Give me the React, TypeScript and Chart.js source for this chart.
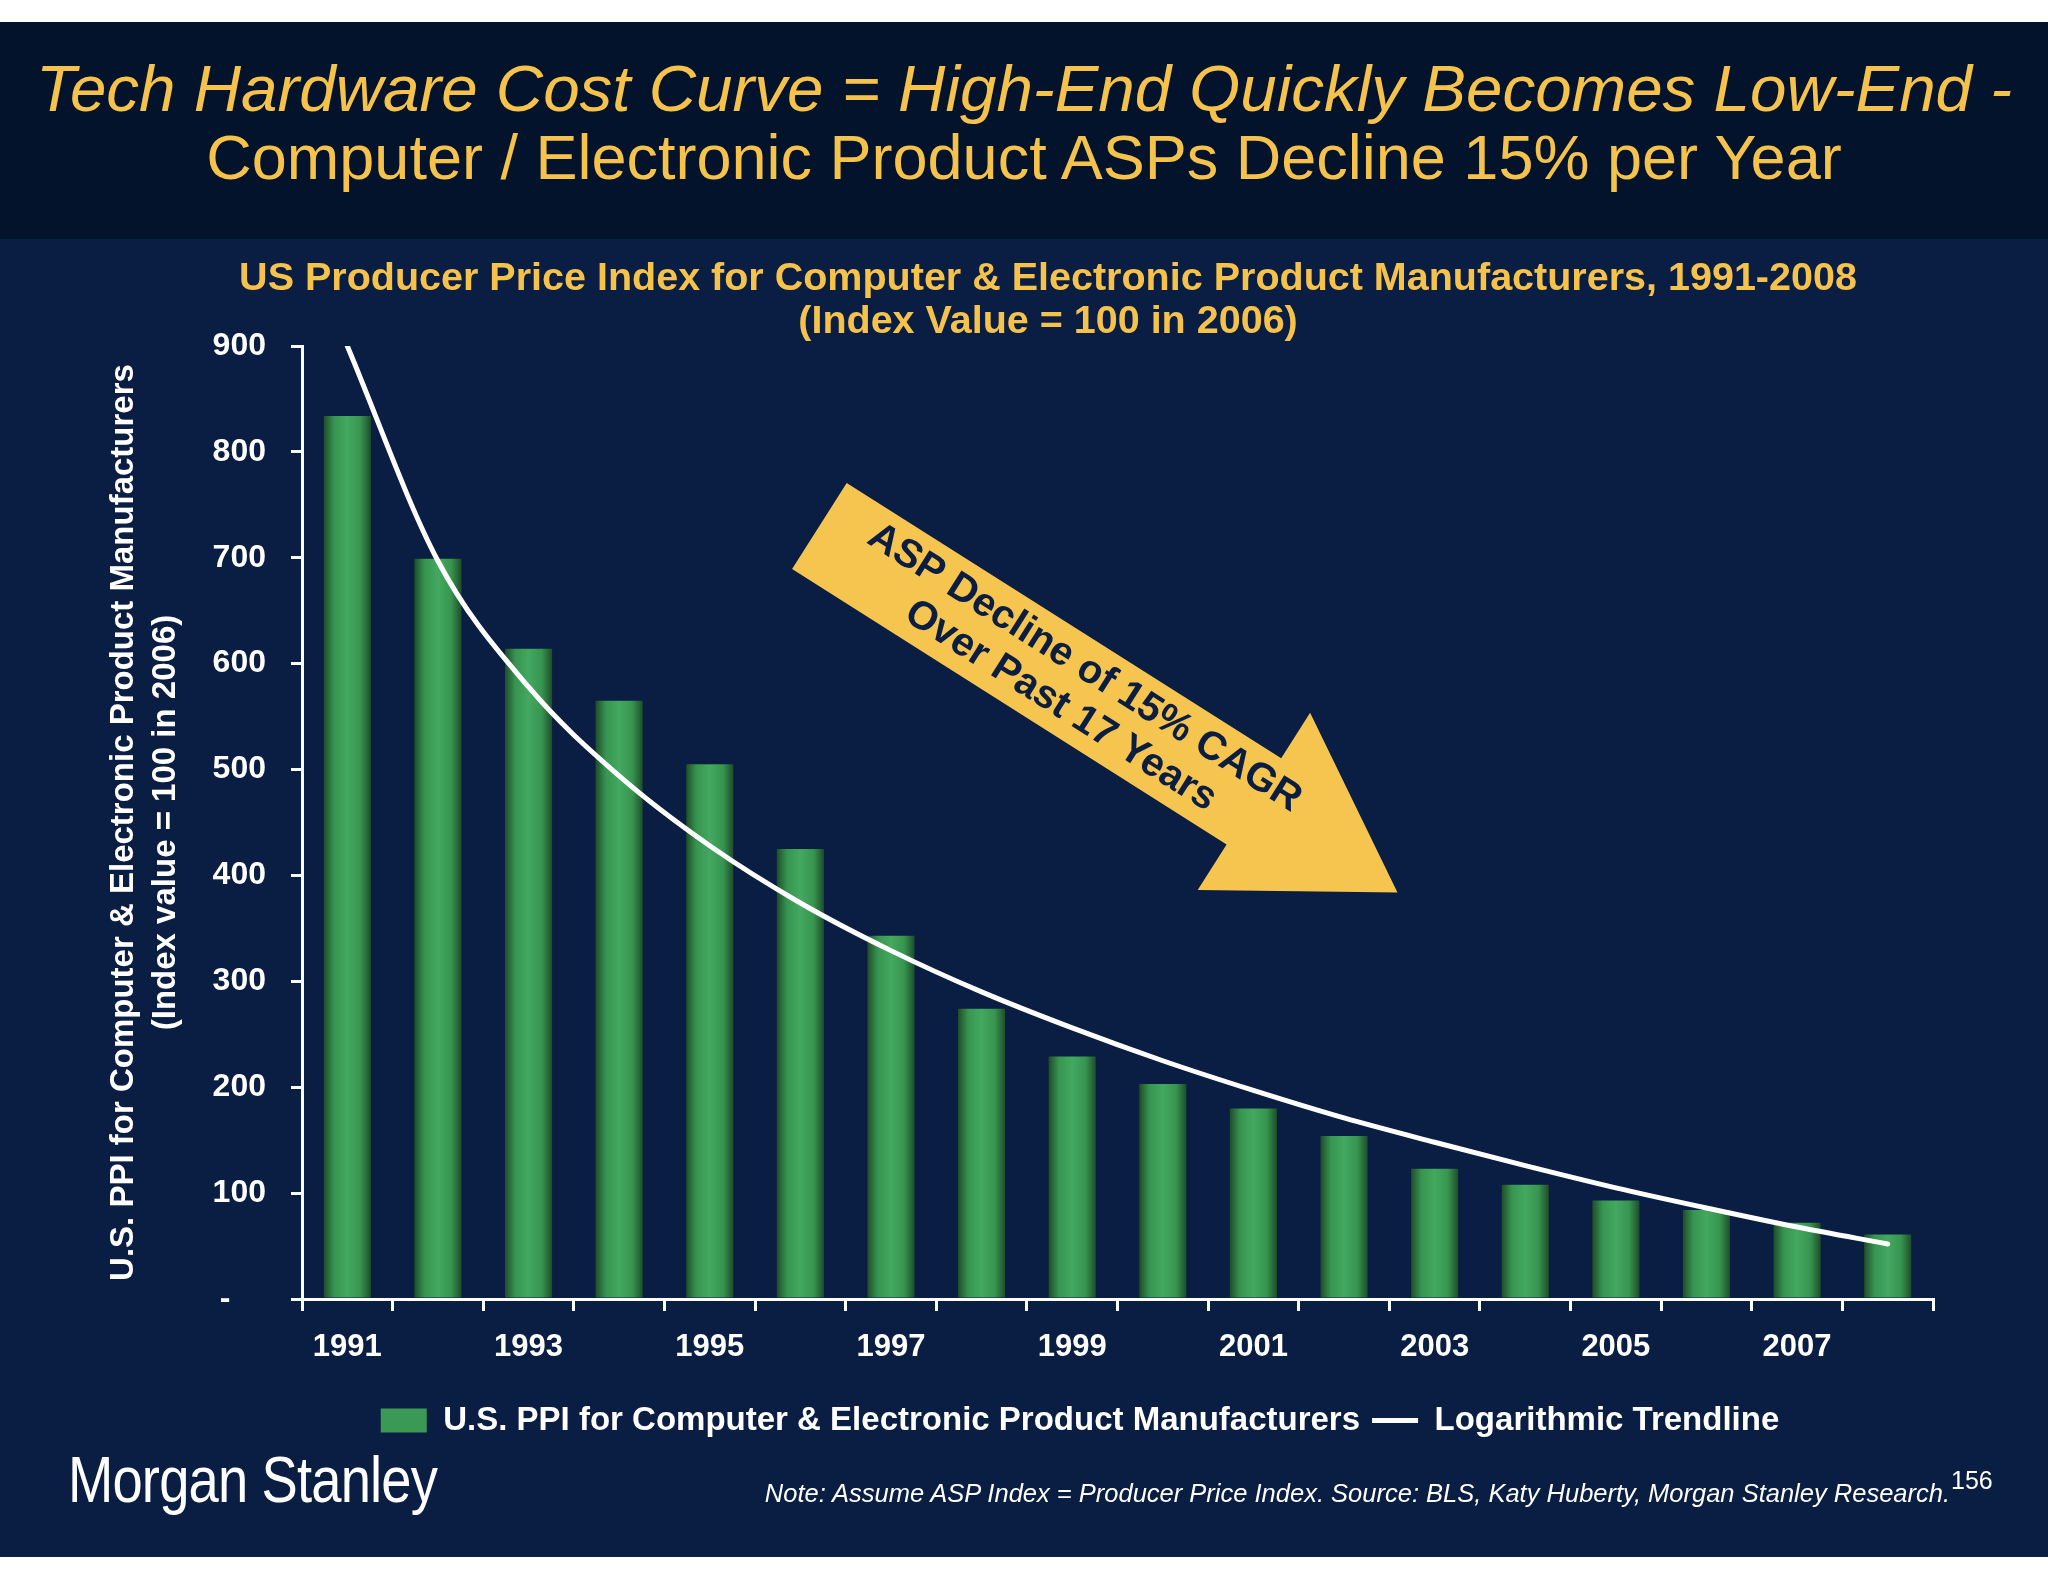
import React, { useEffect, useRef } from 'react';
import { Chart, registerables } from 'chart.js';

Chart.register(...registerables);

// ---------- data ----------
const years = ['1991', '1992', '1993', '1994', '1995', '1996', '1997', '1998', '1999', '2000', '2001', '2002', '2003', '2004', '2005', '2006', '2007', '2008'];
const yearTickLabels = ['1991', '', '1993', '', '1995', '', '1997', '', '1999', '', '2001', '', '2003', '', '2005', '', '2007', ''];
const ppiValues = [834, 699, 614, 565, 505, 425, 343, 274, 229, 203, 180, 154, 123, 108, 93, 84, 72, 61];
const trendValues = [900, 697, 578, 494, 428, 374, 329, 290, 256, 225, 197, 171, 148, 126, 105, 86, 68, 52];
const seriesLabels = ['U.S. PPI for Computer & Electronic Product Manufacturers', 'Logarithmic Trendline'];
const chartTitle = ['US Producer Price Index for Computer & Electronic Product Manufacturers, 1991-2008', '(Index Value = 100 in 2006)'];
const yAxisTitle = ['U.S. PPI for Computer & Electronic Product Manufacturers', '(Index value = 100 in 2006)'];
const arrowText = ['ASP Decline of 15% CAGR', 'Over Past 17 Years'];
// arrow annotation anchors in data space (category index, value)
const arrowTail = { x: 5.21, y: 730 };
const arrowTip = { x: 11.59, y: 384 };

// ---------- style ----------
const GOLD = '#f5c24c';
const PANEL = '#0a1d42';
const BAND = '#03132b';
const BAR_MID = '#3a9a55';
const FONT = '"Liberation Sans", Arial, Helvetica, sans-serif';

const barFill = (ctx: any) => {
  const chart = ctx.chart;
  const xs = chart.scales && chart.scales.x;
  if (ctx.type !== 'data' || !xs || !chart.chartArea) return BAR_MID;
  const cx = xs.getPixelForValue(ctx.dataIndex);
  const w = (xs.width / years.length) * 0.52;
  const g = chart.ctx.createLinearGradient(cx - w / 2, 0, cx + w / 2, 0);
  g.addColorStop(0, '#1f4d2a');
  g.addColorStop(0.22, '#379550');
  g.addColorStop(0.5, '#43a860');
  g.addColorStop(0.78, '#379550');
  g.addColorStop(1, '#1f4d2a');
  return g;
};

const arrowPlugin = {
  id: 'cagrArrow',
  afterDatasetsDraw(chart: any) {
    const { ctx } = chart;
    const xs = chart.scales.x;
    const ys = chart.scales.y;
    const x0 = xs.getPixelForValue(arrowTail.x);
    const y0 = ys.getPixelForValue(arrowTail.y);
    const x1 = xs.getPixelForValue(arrowTip.x);
    const y1 = ys.getPixelForValue(arrowTip.y);
    const ang = Math.atan2(y1 - y0, x1 - x0);
    const len = Math.hypot(x1 - x0, y1 - y0);
    const sw = 51;
    const hw = 105;
    const hl = 170;
    ctx.save();
    ctx.translate(x0, y0);
    ctx.rotate(ang);
    ctx.beginPath();
    ctx.moveTo(0, -sw);
    ctx.lineTo(len - hl, -sw);
    ctx.lineTo(len - hl, -hw);
    ctx.lineTo(len, 0);
    ctx.lineTo(len - hl, hw);
    ctx.lineTo(len - hl, sw);
    ctx.lineTo(0, sw);
    ctx.closePath();
    ctx.fillStyle = '#f6c54f';
    ctx.fill();
    ctx.fillStyle = '#0b1d40';
    ctx.font = `bold 40px ${FONT}`;
    ctx.textAlign = 'center';
    ctx.textBaseline = 'middle';
    ctx.fillText(arrowText[0], 300, -22);
    ctx.fillText(arrowText[1], 300, 23);
    ctx.restore();
  },
};

const shiftPlugin = {
  id: 'shiftBlocks',
  afterLayout(chart: any) {
    if (chart.legend) {
      chart.legend.left += 66;
      chart.legend.right += 66;
    }
    if (chart.titleBlock) {
      chart.titleBlock.left += 34;
      chart.titleBlock.right += 34;
    }
  },
};

export default function App() {
  const canvasRef = useRef<HTMLCanvasElement>(null);

  useEffect(() => {
    const canvas = canvasRef.current;
    if (!canvas) return;
    const tickFont = { family: FONT, size: 32, weight: 'bold' as const };
    const chart = new Chart(canvas, {
      type: 'bar',
      data: {
        labels: years,
        datasets: [
          {
            type: 'bar',
            label: seriesLabels[0],
            data: ppiValues,
            backgroundColor: barFill as any,
            borderWidth: 0,
            barPercentage: 0.52,
            categoryPercentage: 1,
            pointStyle: 'rect',
            order: 1,
          } as any,
          {
            type: 'line',
            label: seriesLabels[1],
            data: trendValues,
            borderColor: '#ffffff',
            backgroundColor: '#ffffff',
            borderWidth: 5,
            pointRadius: 0,
            cubicInterpolationMode: 'monotone',
            borderCapStyle: 'round',
            pointStyle: 'line',
            order: 0,
          } as any,
        ],
      },
      options: {
        responsive: false,
        animation: false,
        devicePixelRatio: 1,
        layout: { padding: { left: 95, right: 115, top: 0, bottom: 110 } },
        plugins: {
          title: {
            display: true,
            text: chartTitle,
            color: GOLD,
            font: { family: FONT, size: 39.5, weight: 'bold', lineHeight: 43 / 39.5 },
            padding: { top: 19, bottom: 2 },
          },
          legend: {
            position: 'bottom',
            labels: {
              usePointStyle: true,
              pointStyleWidth: 46,
              boxHeight: 24,
              padding: 12,
              color: '#ffffff',
              font: { family: FONT, size: 33, weight: 'bold' },
              sort: (a: any, b: any) => a.datasetIndex - b.datasetIndex,
              generateLabels: (chart: any) => {
                const items = Chart.defaults.plugins.legend.labels.generateLabels(chart);
                items.forEach((it: any) => {
                  if (it.datasetIndex === 0) {
                    it.fillStyle = BAR_MID;
                    it.strokeStyle = BAR_MID;
                  }
                });
                return items;
              },
            },
          },
          tooltip: { enabled: false },
        },
        scales: {
          x: {
            grid: { offset: true, drawOnChartArea: false, drawTicks: true, tickLength: 12, color: '#ffffff', lineWidth: 3 },
            border: { display: true, color: '#ffffff', width: 3 },
            ticks: {
              autoSkip: false,
              maxRotation: 0,
              color: '#ffffff',
              font: { family: FONT, size: 31, weight: 'bold' },
              padding: 18,
              callback: (_v: any, i: number) => yearTickLabels[i],
            },
            afterFit: (s: any) => {
              s.height = 93;
            },
          },
          y: {
            min: 0,
            max: 900,
            grid: { drawOnChartArea: false, drawTicks: true, tickLength: 11, color: '#ffffff', lineWidth: 3 },
            border: { display: true, color: '#ffffff', width: 3 },
            ticks: {
              stepSize: 100,
              color: '#ffffff',
              font: tickFont,
              padding: 25,
              callback: (v: any) => (Number(v) === 0 ? '-    ' : String(v)),
            },
            title: {
              display: true,
              text: yAxisTitle,
              color: '#ffffff',
              font: { family: FONT, size: 33, weight: 'bold', lineHeight: 42 / 33 },
              padding: { top: 8, bottom: 0 },
            },
            afterFit: (s: any) => {
              s.width = 207;
            },
          },
        },
      } as any,
      plugins: [arrowPlugin, shiftPlugin],
    });
    return () => chart.destroy();
  }, []);

  return (
    <div style={{ position: 'absolute', left: 0, top: 0, width: 2048, height: 1582, background: '#ffffff', overflow: 'hidden' }}>
      <div style={{ position: 'absolute', left: 0, top: 22, width: 2048, height: 217, background: BAND }}>
        <div
          style={{
            position: 'absolute',
            left: 0,
            right: 0,
            top: 33,
            textAlign: 'center',
            color: GOLD,
            fontFamily: FONT,
            fontSize: 63,
            lineHeight: '68px',
            whiteSpace: 'nowrap',
          }}
        >
          <div style={{ fontStyle: 'italic', fontSize: 65.5 }}>Tech Hardware Cost Curve = High-End Quickly Becomes Low-End -</div>
          <div>Computer / Electronic Product ASPs Decline 15% per Year</div>
        </div>
      </div>
      <div style={{ position: 'absolute', left: 0, top: 239, width: 2048, height: 1318, background: PANEL }}>
        <canvas ref={canvasRef} width={2048} height={1318} style={{ display: 'block', width: 2048, height: 1318 }} />
      </div>
      <div
        style={{
          position: 'absolute',
          left: 68,
          top: 1448,
          color: '#ffffff',
          fontFamily: FONT,
          fontSize: 64,
          lineHeight: '64px',
          whiteSpace: 'nowrap',
          transform: 'scaleX(0.85)',
          transformOrigin: 'left top',
          letterSpacing: -1,
        }}
      >
        Morgan Stanley
      </div>
      <div
        style={{
          position: 'absolute',
          right: 2048 - 1950,
          top: 1480,
          color: '#ffffff',
          fontFamily: FONT,
          fontStyle: 'italic',
          fontSize: 25.5,
          lineHeight: '26px',
          whiteSpace: 'nowrap',
        }}
      >
        Note: Assume ASP Index = Producer Price Index. Source: BLS, Katy Huberty, Morgan Stanley Research.
      </div>
      <div
        style={{
          position: 'absolute',
          left: 1951,
          top: 1468,
          color: '#ffffff',
          fontFamily: FONT,
          fontSize: 25,
          lineHeight: '25px',
          whiteSpace: 'nowrap',
        }}
      >
        156
      </div>
    </div>
  );
}
